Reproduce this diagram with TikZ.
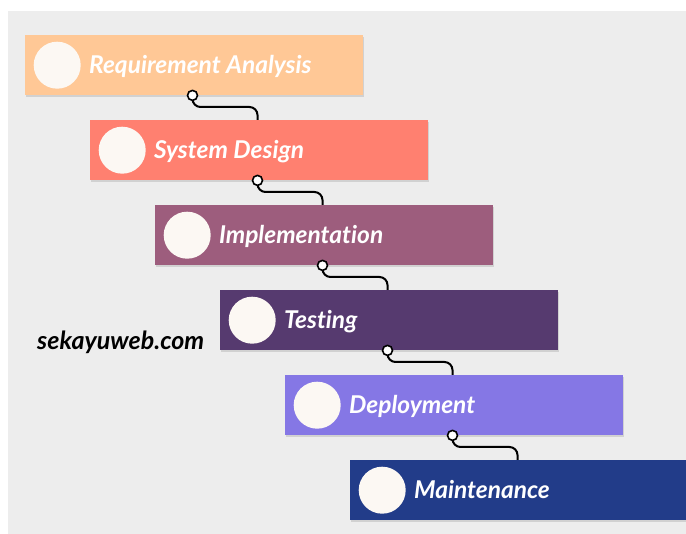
\documentclass[tikz,border=0pt]{standalone}
\usepackage{fontspec}
\setmainfont{Lato}[Ligatures=CommonOff]
\usetikzlibrary{positioning,shadows}
\definecolor{pagegray}{HTML}{EDEDED}
\definecolor{discwhite}{HTML}{FCF8F3}
\definecolor{reqcol}{HTML}{FFC896}
\definecolor{designcol}{HTML}{FF8070}
\definecolor{implcol}{HTML}{9D5D7D}
\definecolor{testcol}{HTML}{563A6F}
\definecolor{deploycol}{HTML}{8577E5}
\definecolor{maintcol}{HTML}{223C89}

\begin{document}
\begin{tikzpicture}[x=1pt,y=-1pt,
    stage/.style={anchor=north west,minimum width=338pt,minimum height=60pt,inner sep=0pt,
        drop shadow={opacity=0.25,shadow xshift=1pt,shadow yshift=-2pt}},
    disc/.style={circle,fill=discwhite,minimum size=47pt,inner sep=0pt},
    title/.style={text=white,inner sep=0pt,text height=20pt,text depth=4pt,
        font=\fontsize{24.5}{28}\selectfont\bfseries\itshape},
    link/.style={line width=2pt,rounded corners=8pt},
    stud/.style={circle,draw,fill=white,line width=1.6pt,minimum size=10pt,inner sep=0pt}]
    \useasboundingbox (0,0) rectangle (686,534);
    \fill[white] (0,0) rectangle (686,534);
    \fill[pagegray] (8,11) rectangle (686,534);

    \node[stage,fill=reqcol] (req) at (24.5,35) {};
    \node[disc,right=9pt of req.west] (req-c) {};
    \node[title,right=8pt of req-c] (req-t) {Requirement Analysis};

    \node[stage,fill=designcol] (design) at (89.5,120) {};
    \node[disc,right=9pt of design.west] (design-c) {};
    \node[title,right=8pt of design-c] (design-t) {System Design};

    \node[stage,fill=implcol] (impl) at (154.5,205) {};
    \node[disc,right=9pt of impl.west] (impl-c) {};
    \node[title,right=8pt of impl-c] (impl-t) {Implementation};

    \node[stage,fill=testcol] (test) at (219.5,290) {};
    \node[disc,right=9pt of test.west] (test-c) {};
    \node[title,right=8pt of test-c] (test-t) {Testing};

    \node[stage,fill=deploycol] (deploy) at (284.5,375) {};
    \node[disc,right=9pt of deploy.west] (deploy-c) {};
    \node[title,right=8pt of deploy-c] (deploy-t) {Deployment};

    \node[stage,fill=maintcol] (maint) at (349.5,460) {};
    \node[disc,right=9pt of maint.west] (maint-c) {};
    \node[title,right=8pt of maint-c] (maint-t) {Maintenance};

    \node[anchor=base west,inner sep=0pt,font=\fontsize{25}{29}\selectfont\bfseries\itshape] (site) at (37,350) {sekayuweb.com};

    \draw[link] ([xshift=168pt]req.south west) |- ([xshift=168pt,yshift=13pt]design.north west) -- ([xshift=168pt]design.north west);
    \node[stud] (req-s) at ([xshift=168pt]req.south west) {};
    \draw[link] ([xshift=168pt]design.south west) |- ([xshift=168pt,yshift=13pt]impl.north west) -- ([xshift=168pt]impl.north west);
    \node[stud] (design-s) at ([xshift=168pt]design.south west) {};
    \draw[link] ([xshift=168pt]impl.south west) |- ([xshift=168pt,yshift=13pt]test.north west) -- ([xshift=168pt]test.north west);
    \node[stud] (impl-s) at ([xshift=168pt]impl.south west) {};
    \draw[link] ([xshift=168pt]test.south west) |- ([xshift=168pt,yshift=13pt]deploy.north west) -- ([xshift=168pt]deploy.north west);
    \node[stud] (test-s) at ([xshift=168pt]test.south west) {};
    \draw[link] ([xshift=168pt]deploy.south west) |- ([xshift=168pt,yshift=13pt]maint.north west) -- ([xshift=168pt]maint.north west);
    \node[stud] (deploy-s) at ([xshift=168pt]deploy.south west) {};
\end{tikzpicture}
\end{document}
